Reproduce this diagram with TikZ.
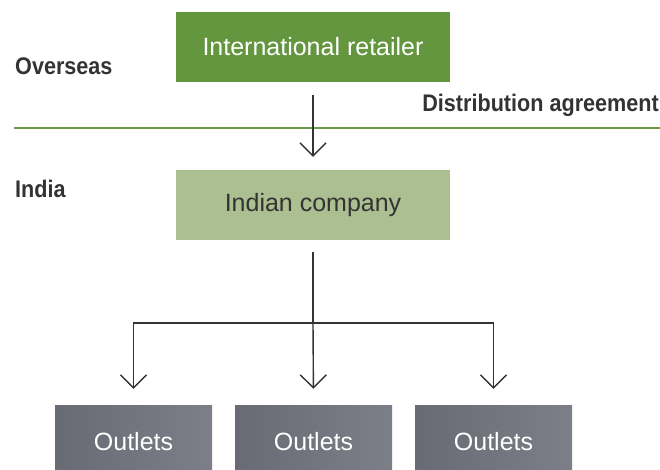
\documentclass[tikz,border=0pt]{standalone}
\usepackage{fontspec}
\setmainfont{Liberation Sans}
\newfontfamily\labfont[FakeStretch=0.9]{Liberation Sans Bold}
\usetikzlibrary{arrows.meta}
\definecolor{dgreen}{HTML}{63963F}
\definecolor{lgreen}{HTML}{ABBF90}
\definecolor{lineg}{HTML}{6A9A48}
\definecolor{ink}{HTML}{333333}
\definecolor{gleft}{HTML}{686B73}
\definecolor{gright}{HTML}{7C7F87}
\begin{document}
\begin{tikzpicture}[x=1pt,y=-1pt,
  box/.style={minimum width=274pt,minimum height=70pt,inner sep=0pt,font=\fontsize{25}{28}\selectfont},
  outlet/.style={minimum width=157pt,minimum height=73pt,inner sep=0pt,text=white,
    left color=gleft,right color=gright,draw=none,font=\fontsize{25}{28}\selectfont},
  lab/.style={anchor=west,inner sep=0pt,text=ink,font=\labfont\fontsize{24}{26}\selectfont},
  arr/.style={draw=ink,line width=1.4pt,-{Straight Barb[length=13pt,width=26pt,line width=1.4pt]}},
  conn/.style={draw=ink,line width=1.4pt}]
\useasboundingbox (0,0) rectangle (660,470);
\draw[lineg,line width=2.5pt] (14,128) -- (660,128);
\node[box,fill=dgreen,text=white] (top) at (313,47) {International retailer};
\node[box,fill=lgreen,text=ink] (ind) at (313,205) {Indian company};
\node[lab] (ovs) at (15,66) {Overseas};
\node[lab,anchor=east] (dist) at (659,105) {Distribution agreement};
\node[lab] (india) at (15,189) {India};
\node[outlet] (o1) at (133.5,441.5) {Outlets};
\node[outlet] (o2) at (313.5,441.5) {Outlets};
\node[outlet] (o3) at (493.5,441.5) {Outlets};
\coordinate (hub) at (313,323);
\draw[arr,shorten <=13pt,shorten >=13pt] (top.south) -- (ind.north);
\draw[conn,shorten <=12pt] (ind.south) -- (hub);
\draw[arr,shorten >=16pt] (hub) -| (o1.north);
\draw[arr,shorten >=16pt] (hub) -- (o2.north);
\draw[arr,shorten >=16pt] (hub) -| (o3.north);
\end{tikzpicture}
\end{document}
